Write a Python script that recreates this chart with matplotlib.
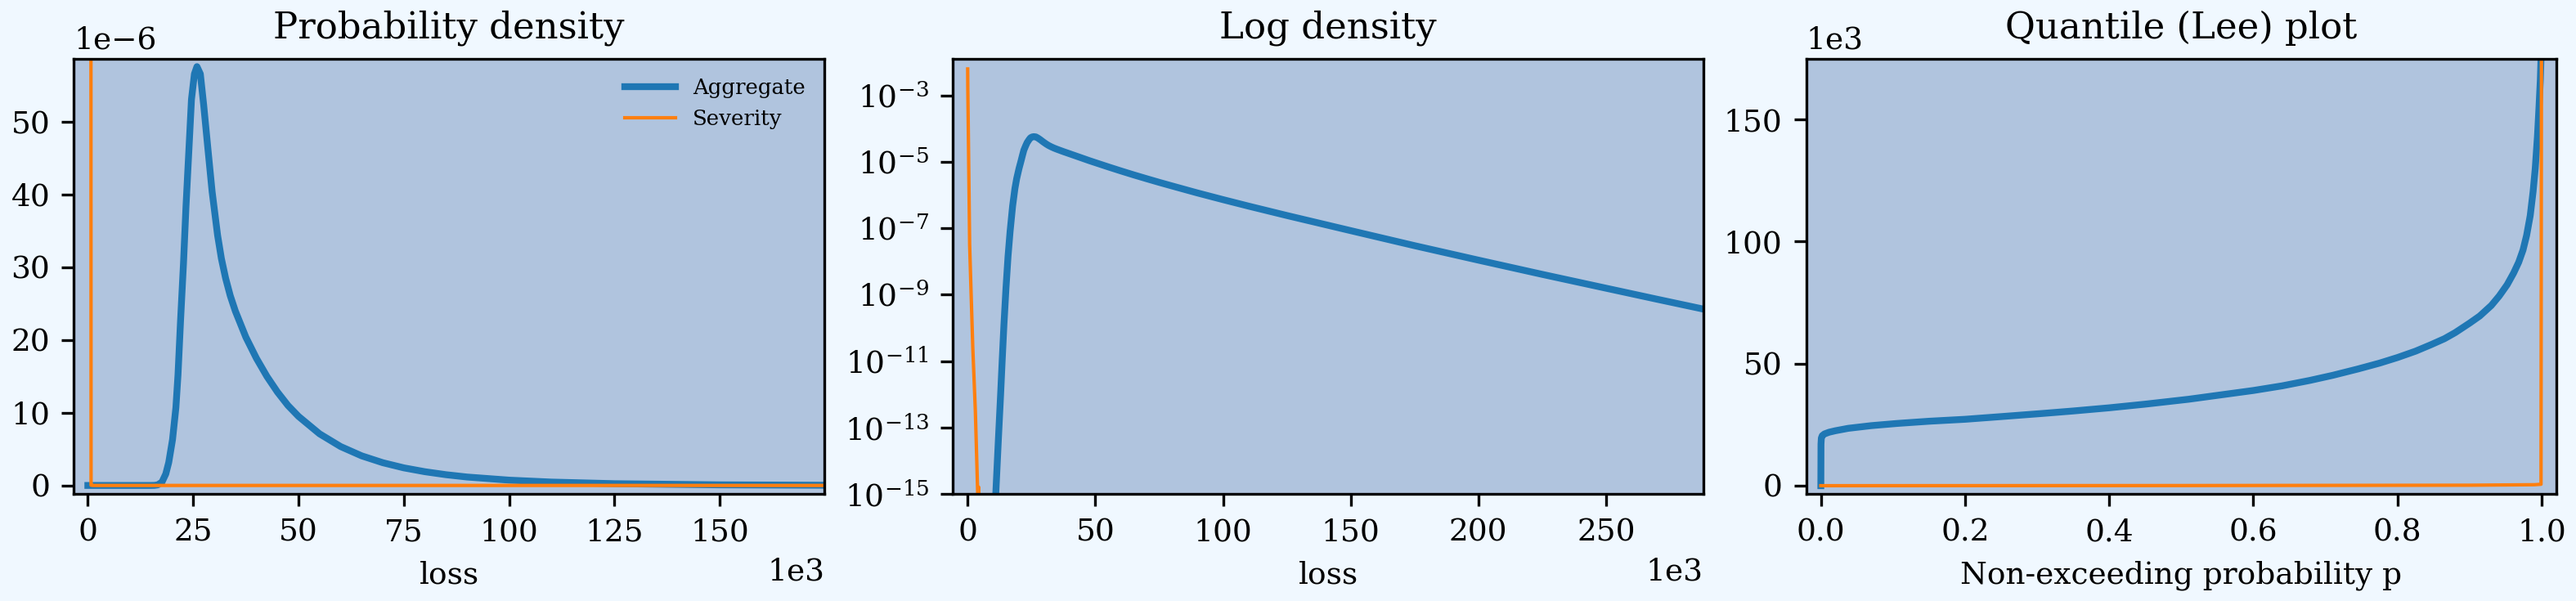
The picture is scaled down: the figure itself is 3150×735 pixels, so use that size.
import matplotlib
matplotlib.use("Agg")
import matplotlib.pyplot as plt
from matplotlib.ticker import FixedLocator, NullLocator

# ---------------- data ----------------
agg_loss = [0, 10000, 11000, 12000, 12900, 13500, 14200, 15000, 15800, 16600,
            17600, 18500, 19200, 20100, 20900, 21400, 22000, 22700, 23300, 24000,
            24600, 25300, 25900, 26700, 27500, 28500, 29500, 30800, 31700, 32700,
            33800, 35000, 37500, 40000, 42500, 45000, 47500, 50000, 55000, 60000,
            65000, 70000, 75000, 80000, 85000, 90000, 100000, 110000, 125000, 150000,
            175000, 200000, 225000, 250000, 270000, 288000]
agg_density = [0.0, 1e-16, 1e-15, 4e-14, 1e-12, 1e-11, 1.26e-10, 1.58e-9, 1.41e-8, 7.9e-8,
               4.7e-7, 1.58e-6, 3.16e-6, 6.3e-6, 1.07e-5, 1.52e-5, 2.26e-5, 3.05e-5, 3.84e-5, 4.63e-5,
               5.31e-5, 5.66e-5, 5.76e-5, 5.66e-5, 5.23e-5, 4.63e-5, 4.04e-5, 3.44e-5, 3.12e-5, 2.85e-5,
               2.61e-5, 2.40e-5, 2.04e-5, 1.75e-5, 1.50e-5, 1.285e-5, 1.10e-5, 9.5e-6, 7.1e-6, 5.35e-6,
               4.07e-6, 3.13e-6, 2.42e-6, 1.89e-6, 1.48e-6, 1.16e-6, 7.3e-7, 4.66e-7, 2.43e-7, 8.5e-8,
               3.0e-8, 1.1e-8, 4.1e-9, 1.57e-9, 7.3e-10, 3.7e-10]

sev_loss = [0, 50, 770, 1200, 2000, 3000, 4000, 4300, 4350, 10000, 100000, 300000]
sev_density = [6.3e-3, 1.6e-3, 3.2e-8, 2.5e-9, 2.5e-11, 3.2e-13, 6.3e-16, 1.6e-15,
               0.0, 0.0, 0.0, 0.0]

agg_prob = [0.0, 0.0002, 0.0007, 0.002, 0.005, 0.0114, 0.02, 0.038, 0.07, 0.106,
            0.15, 0.2, 0.25, 0.308, 0.35, 0.4, 0.45, 0.51, 0.55, 0.6,
            0.64, 0.678, 0.71, 0.745, 0.775, 0.8, 0.825, 0.846, 0.865, 0.88,
            0.9, 0.914, 0.93, 0.941, 0.952, 0.961, 0.968, 0.974, 0.979, 0.984,
            0.988, 0.991, 0.994, 0.996, 0.998, 0.999, 1.0]
agg_quantile = [0, 17000, 19500, 20500, 21200, 21900, 22500, 23500, 24600, 25500,
                26400, 27200, 28300, 29600, 30600, 31900, 33400, 35400, 37000, 39000,
                40900, 43100, 45200, 47800, 50200, 52500, 55100, 57700, 60200, 62700,
                66600, 69500, 73800, 77700, 82300, 87100, 91500, 96500, 102500, 110600,
                120500, 130000, 143000, 154000, 166000, 175500, 300000]

sev_prob = [0.0, 0.5, 0.9, 0.99, 0.999, 1.0]
sev_quantile = [0, 60, 200, 400, 600, 300000]

series_labels = ["Aggregate", "Severity"]
titles = ["Probability density", "Log density", "Quantile (Lee) plot"]
xlabels = ["loss", "loss", "Non-exceeding probability p"]
log_ticks = [1e-15, 1e-13, 1e-11, 1e-9, 1e-7, 1e-5, 1e-3]

# ---------------- style ----------------
plt.rcParams.update({
    "font.family": "serif",
    "font.serif": ["DejaVu Serif"],
    "mathtext.fontset": "dejavuserif",
    "font.size": 9,
    "axes.titlesize": "large",
    "legend.fontsize": "x-small",
    "figure.facecolor": "#F0F8FF",
    "axes.facecolor": "#B0C4DE",
    "axes.edgecolor": "black",
})

C_AGG = "#1f77b4"
C_SEV = "#ff7f0e"
LW_AGG = 2.0
LW_SEV = 1.0

fig = plt.figure(figsize=(10.5, 2.45), dpi=300)
W = 3150.0
H = 735.0
top_px, bot_px = 71.7, 604.0
lefts_px = [90.4, 1165.2, 2208.5]
width_px = 917.6
axes = [fig.add_axes([l / W, 1 - bot_px / H, width_px / W, (bot_px - top_px) / H])
        for l in lefts_px]

# ---- panel 1: density ----
ax = axes[0]
ax.plot(agg_loss, agg_density, color=C_AGG, lw=LW_AGG, label=series_labels[0])
ax.plot(sev_loss, sev_density, color=C_SEV, lw=LW_SEV, label=series_labels[1])
ax.set_xlim(-3300, 174800)
ax.set_ylim(-1.16e-6, 58.7e-6)
ax.ticklabel_format(axis="x", style="sci", scilimits=(3, 3))
ax.ticklabel_format(axis="y", style="sci", scilimits=(-6, -6))
ax.legend(loc="upper right", frameon=False, handlelength=2.4)

# ---- panel 2: log density ----
ax = axes[1]
ax.plot(agg_loss, agg_density, color=C_AGG, lw=LW_AGG)
ax.plot(sev_loss, sev_density, color=C_SEV, lw=LW_SEV)
ax.set_yscale("log")
ax.set_xlim(-5800, 288100)
ax.set_ylim(1e-15, 1.29e-2)
ax.yaxis.set_major_locator(FixedLocator(log_ticks))
ax.yaxis.set_minor_locator(NullLocator())
ax.ticklabel_format(axis="x", style="sci", scilimits=(3, 3))

# ---- panel 3: quantile ----
ax = axes[2]
ax.plot(agg_prob, agg_quantile, color=C_AGG, lw=LW_AGG)
ax.plot(sev_prob, sev_quantile, color=C_SEV, lw=LW_SEV)
ax.set_xlim(-0.0205, 1.0204)
ax.set_ylim(-3350, 174900)
ax.ticklabel_format(axis="y", style="sci", scilimits=(3, 3))

for ax, t, xl in zip(axes, titles, xlabels):
    ax.set_title(t)
    ax.set_xlabel(xl)

fig.savefig("out.png", dpi=300, facecolor=fig.get_facecolor())
